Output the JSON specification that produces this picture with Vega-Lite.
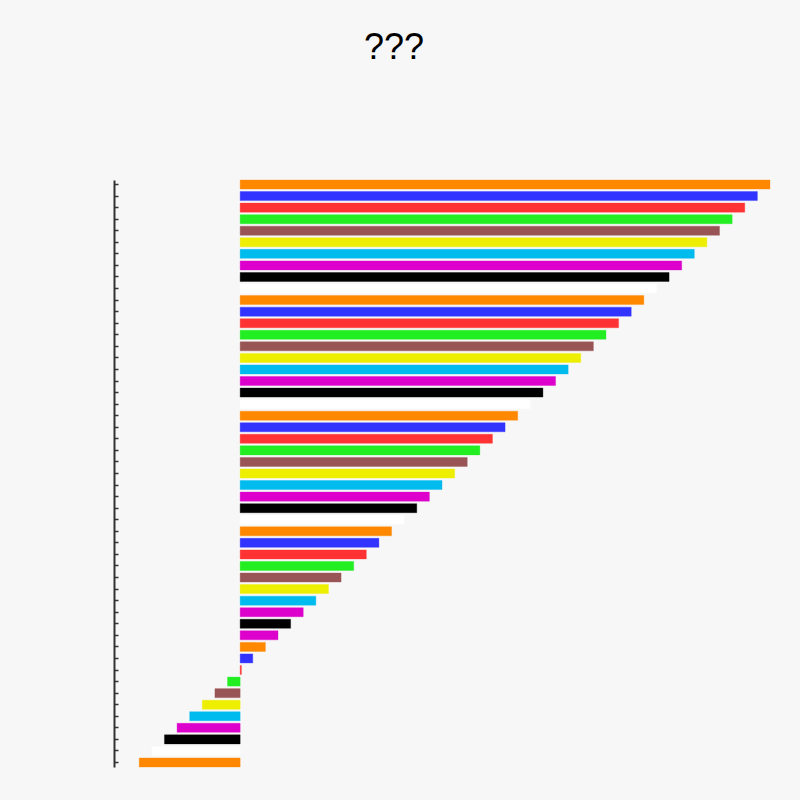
{
  "$schema": "https://vega.github.io/schema/vega-lite/v6.json",
  "autosize": "none",
  "padding": {"left": 114, "top": 180, "right": 30, "bottom": 33},
  "width": 656,
  "height": 587,
  "background": "#f7f7f7",
  "title": {
    "text": "???",
    "font": "Liberation Sans",
    "fontSize": 36,
    "fontWeight": "normal",
    "color": "#000000",
    "anchor": "middle",
    "frame": "group",
    "dx": -48,
    "offset": 85,
    "baseline": "alphabetic"
  },
  "config": {"view": {"stroke": null}},
  "data": {
    "values": [
      {"id": "1", "series": "s1", "value": 42},
      {"id": "2", "series": "s2", "value": 41},
      {"id": "3", "series": "s3", "value": 40},
      {"id": "4", "series": "s4", "value": 39},
      {"id": "5", "series": "s5", "value": 38},
      {"id": "6", "series": "s6", "value": 37},
      {"id": "7", "series": "s7", "value": 36},
      {"id": "8", "series": "s8", "value": 35},
      {"id": "9", "series": "s9", "value": 34},
      {"id": "10", "series": "s10", "value": 33},
      {"id": "11", "series": "s1", "value": 32},
      {"id": "12", "series": "s2", "value": 31},
      {"id": "13", "series": "s3", "value": 30},
      {"id": "14", "series": "s4", "value": 29},
      {"id": "15", "series": "s5", "value": 28},
      {"id": "16", "series": "s6", "value": 27},
      {"id": "17", "series": "s7", "value": 26},
      {"id": "18", "series": "s8", "value": 25},
      {"id": "19", "series": "s9", "value": 24},
      {"id": "20", "series": "s10", "value": 23},
      {"id": "21", "series": "s1", "value": 22},
      {"id": "22", "series": "s2", "value": 21},
      {"id": "23", "series": "s3", "value": 20},
      {"id": "24", "series": "s4", "value": 19},
      {"id": "25", "series": "s5", "value": 18},
      {"id": "26", "series": "s6", "value": 17},
      {"id": "27", "series": "s7", "value": 16},
      {"id": "28", "series": "s8", "value": 15},
      {"id": "29", "series": "s9", "value": 14},
      {"id": "30", "series": "s10", "value": 13},
      {"id": "31", "series": "s1", "value": 12},
      {"id": "32", "series": "s2", "value": 11},
      {"id": "33", "series": "s3", "value": 10},
      {"id": "34", "series": "s4", "value": 9},
      {"id": "35", "series": "s5", "value": 8},
      {"id": "36", "series": "s6", "value": 7},
      {"id": "37", "series": "s7", "value": 6},
      {"id": "38", "series": "s8", "value": 5},
      {"id": "39", "series": "s9", "value": 4},
      {"id": "40", "series": "s8", "value": 3},
      {"id": "41", "series": "s1", "value": 2},
      {"id": "42", "series": "s2", "value": 1},
      {"id": "43", "series": "s3", "value": 0.1},
      {"id": "44", "series": "s4", "value": -1},
      {"id": "45", "series": "s5", "value": -2},
      {"id": "46", "series": "s6", "value": -3},
      {"id": "47", "series": "s7", "value": -4},
      {"id": "48", "series": "s8", "value": -5},
      {"id": "49", "series": "s9", "value": -6},
      {"id": "50", "series": "s10", "value": -7},
      {"id": "51", "series": "s1", "value": -8}
    ]
  },
  "mark": {"type": "bar", "strokeWidth": 1, "strokeOpacity": 0.35},
  "encoding": {
    "y": {
      "field": "id",
      "type": "nominal",
      "sort": null,
      "scale": {"paddingInner": 0.22, "paddingOuter": 0},
      "axis": {
        "title": null,
        "labels": false,
        "domainColor": "#333333",
        "domainWidth": 2,
        "tickColor": "#333333",
        "tickWidth": 1.5,
        "tickSize": -4,
        "grid": false
      }
    },
    "x": {
      "field": "value",
      "type": "quantitative",
      "scale": {"domain": [-10, 42], "nice": false, "zero": false},
      "axis": null
    },
    "color": {
      "field": "series",
      "type": "nominal",
      "legend": null,
      "scale": {
        "domain": ["s1", "s2", "s3", "s4", "s5", "s6", "s7", "s8", "s9", "s10"],
        "range": ["#ff8800", "#3333ff", "#ff3333", "#22ee22", "#995555", "#eeee00", "#00bbee", "#dd00cc", "#000000", "#ffffff"]
      }
    },
    "stroke": {
      "field": "series",
      "type": "nominal",
      "legend": null,
      "scale": {
        "domain": ["s1", "s2", "s3", "s4", "s5", "s6", "s7", "s8", "s9", "s10"],
        "range": ["#ff8800", "#3333ff", "#ff3333", "#22ee22", "#995555", "#eeee00", "#00bbee", "#dd00cc", "#000000", "#ffffff"]
      }
    }
  }
}
